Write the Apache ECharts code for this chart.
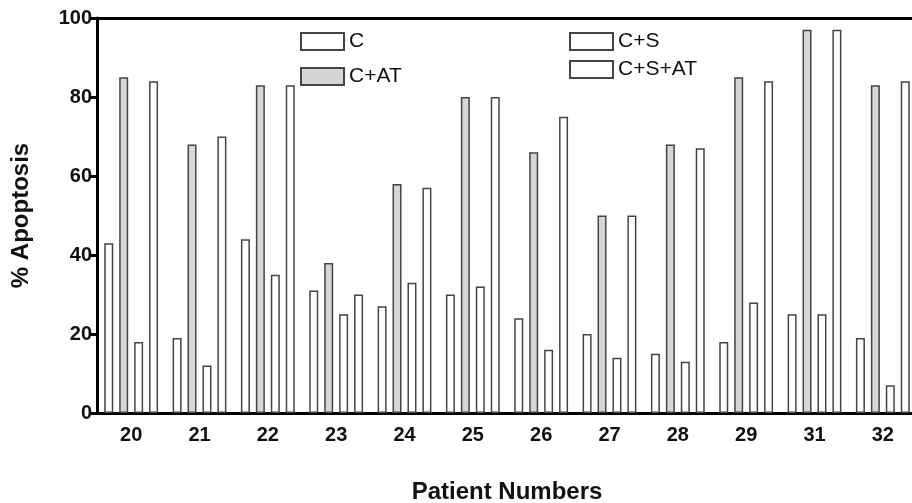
<!DOCTYPE html>
<html>
<head>
<meta charset="utf-8">
<script src="https://cdn.jsdelivr.net/npm/echarts@6/dist/echarts.min.js"></script>
<style>html,body{margin:0;padding:0;background:#fff}#c{width:912px;height:503px}</style>
</head>
<body>
<div id="c"></div>
<script>
var categories = ['20','21','22','23','24','25','26','27','28','29','31','32'];
var seriesC      = [43, 19, 44, 31, 27, 30, 24, 20, 15, 18, 25, 19];
var seriesCAT    = [85, 68, 83, 38, 58, 80, 66, 50, 68, 85, 97, 83];
var seriesCS     = [18, 12, 35, 25, 33, 32, 16, 14, 13, 28, 25, 7];
var seriesCSAT   = [84, 70, 83, 30, 57, 80, 75, 50, 67, 84, 97, 84];
var yTicks = [0, 20, 40, 60, 80, 100];

var FONT = '"Liberation Sans", Arial, Helvetica, sans-serif';
var chart = echarts.init(document.getElementById('c'));

function bar(name, data, fill) {
  return {
    name: name, type: 'bar', data: data,
    barWidth: 9, barGap: '66%',
    itemStyle: { color: fill, borderColor: '#444', borderWidth: 1.5 },
    emphasis: { disabled: true }
  };
}

chart.setOption({
  animation: false,
  backgroundColor: '#fff',
  grid: { left: 97, top: 18, bottom: 90, width: 820, containLabel: false, outerBoundsMode: 'none' },
  legend: [
    { data: ['C', 'C+AT'], orient: 'vertical', left: 295, top: 26,
      itemWidth: 43, itemHeight: 17, itemGap: 14, icon: 'rect',
      textStyle: { fontSize: 21, color: '#111', fontFamily: FONT }, selectedMode: false },
    { data: ['C+S', 'C+S+AT'], orient: 'vertical', left: 564, top: 26,
      itemWidth: 43, itemHeight: 17, itemGap: 7, icon: 'rect',
      textStyle: { fontSize: 21, color: '#111', fontFamily: FONT }, selectedMode: false }
  ],
  xAxis: [
    { type: 'category', data: categories, position: 'bottom',
      name: 'Patient Numbers', nameLocation: 'middle', nameGap: 67,
      nameTextStyle: { fontSize: 24, fontWeight: 'bold', color: '#111', fontFamily: FONT },
      axisLine: { lineStyle: { color: '#000', width: 3 } },
      axisTick: { show: false },
      axisLabel: { fontSize: 20, fontWeight: 'bold', color: '#111', margin: 12, fontFamily: FONT } },
    { type: 'category', data: categories, position: 'top',
      axisLine: { lineStyle: { color: '#000', width: 3 } },
      axisTick: { show: false }, axisLabel: { show: false } }
  ],
  yAxis: {
    type: 'value', min: yTicks[0], max: yTicks[yTicks.length - 1], interval: 20,
    name: '% Apoptosis', nameLocation: 'middle', nameGap: 64,
    nameTextStyle: { fontSize: 24, fontWeight: 'bold', color: '#111', fontFamily: FONT },
    axisLine: { show: true, lineStyle: { color: '#000', width: 3 } },
    axisTick: { show: true, length: 8, lineStyle: { color: '#000', width: 3 } },
    axisLabel: { fontSize: 20, fontWeight: 'bold', color: '#111', margin: 5, fontFamily: FONT },
    splitLine: { show: false }
  },
  series: [
    bar('C', seriesC, '#ffffff'),
    bar('C+AT', seriesCAT, '#d6d6d6'),
    bar('C+S', seriesCS, '#ffffff'),
    bar('C+S+AT', seriesCSAT, '#ffffff')
  ]
});
</script>
</body>
</html>
